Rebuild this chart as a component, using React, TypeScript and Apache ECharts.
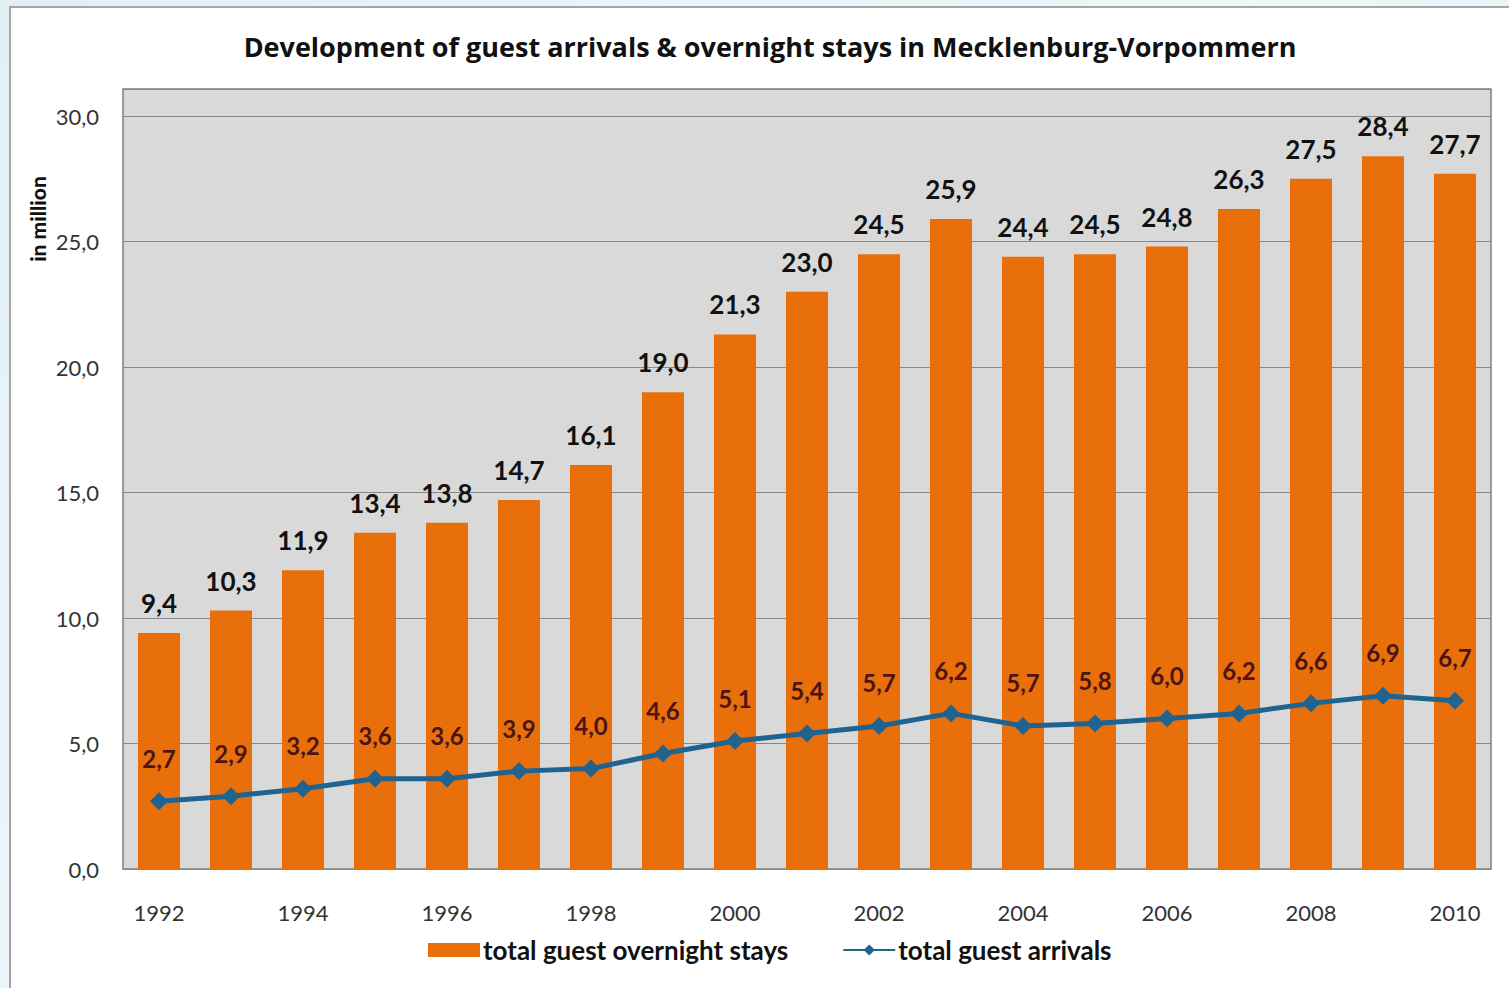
import React, { useEffect, useRef } from "react";
import * as echarts from "echarts";

const years = ["1992","1993","1994","1995","1996","1997","1998","1999","2000","2001","2002","2003","2004","2005","2006","2007","2008","2009","2010"];
const overnightStays = [9.4,10.3,11.9,13.4,13.8,14.7,16.1,19.0,21.3,23.0,24.5,25.9,24.4,24.5,24.8,26.3,27.5,28.4,27.7];
const guestArrivals = [2.7,2.9,3.2,3.6,3.6,3.9,4.0,4.6,5.1,5.4,5.7,6.2,5.7,5.8,6.0,6.2,6.6,6.9,6.7];
const yTicks = [0, 5, 10, 15, 20, 25, 30];

const fmt = (v: number) => v.toFixed(1).replace(".", ",");
const FONT = "Lato, 'Open Sans', sans-serif";

export default function App() {
  const ref = useRef<HTMLDivElement>(null);
  useEffect(() => {
    if (!ref.current) return;
    const chart = echarts.init(ref.current, undefined, { renderer: "svg" });
    chart.setOption({
      animation: false,
      textStyle: { fontFamily: FONT },
      title: {
        text: "Development of guest arrivals & overnight stays in Mecklenburg-Vorpommern",
        left: 765,
        top: 28,
        textAlign: "center",
        textStyle: { fontFamily: "'Open Sans', sans-serif", fontSize: 27, fontWeight: "bold", color: "#111" },
      },
      graphic: [
        {
          type: "rect",
          z: -10,
          shape: { x: 10, y: 7, width: 1520, height: 1000 },
          style: { fill: "#ffffff", stroke: "#a6a6a6", lineWidth: 2 },
        },
        {
          type: "text",
          x: 37,
          y: 219,
          rotation: Math.PI / 2,
          style: {
            text: "in million",
            fontFamily: FONT,
            fontSize: 21,
            fontWeight: 900,
            fill: "#111",
            align: "center",
            verticalAlign: "middle",
          },
        },
      ],
      legend: {
        left: 423,
        top: 932,
        itemGap: 54,
        itemWidth: 52,
        itemHeight: 14,
        textStyle: { fontFamily: FONT, fontSize: 26, fontWeight: "bold", color: "#111", padding: [0, 0, 0, -2] },
        data: [
          { name: "total guest overnight stays", icon: "rect" },
          { name: "total guest arrivals" },
        ],
      },
      grid: {
        left: 123,
        top: 89,
        right: 18,
        bottom: 119,
        show: true,
        backgroundColor: "#D9D9D9",
        borderColor: "#808080",
        borderWidth: 1.5,
      },
      xAxis: {
        type: "category",
        data: years,
        boundaryGap: true,
        axisLine: { show: false },
        axisTick: { show: false },
        axisLabel: {
          interval: 1,
          margin: 32,
          fontFamily: FONT,
          fontSize: 22,
          color: "#333",
        },
      },
      yAxis: {
        type: "value",
        min: 0,
        max: 31.08,
        interval: 5,
        axisLine: { show: false },
        axisTick: { show: false },
        splitLine: { lineStyle: { color: "#888888", width: 1.2 } },
        axisLabel: {
          margin: 24,
          fontFamily: FONT,
          fontSize: 22,
          color: "#333",
          showMaxLabel: false,
          formatter: (v: number) => (yTicks.includes(v) ? fmt(v) : ""),
        },
      },
      series: [
        {
          name: "total guest overnight stays",
          type: "bar",
          data: overnightStays,
          barWidth: 42,
          itemStyle: { color: "#E96F0B" },
          label: {
            show: true,
            position: "top",
            distance: 17,
            fontFamily: FONT,
            fontSize: 26,
            fontWeight: "bold",
            color: "#111",
            formatter: (p: any) => fmt(p.value),
          },
        },
        {
          name: "total guest arrivals",
          type: "line",
          data: guestArrivals,
          symbol: "diamond",
          symbolSize: 18,
          lineStyle: { color: "#1F6391", width: 5 },
          itemStyle: { color: "#1F6391" },
          label: {
            show: true,
            position: "top",
            distance: 22,
            fontFamily: FONT,
            fontSize: 24,
            fontWeight: "bold",
            color: "#4D1414",
            formatter: (p: any) => fmt(p.value),
          },
        },
      ],
    });
    return () => chart.dispose();
  }, []);
  return (
    <div
      style={{
        position: "fixed",
        left: 0,
        top: 0,
        width: 1509,
        height: 988,
        background: "linear-gradient(135deg, #E2F0F5 0%, #EEF7FA 50%, #E0EFF4 100%)",
      }}
    >
      <div ref={ref} style={{ width: 1509, height: 988 }} />
    </div>
  );
}
